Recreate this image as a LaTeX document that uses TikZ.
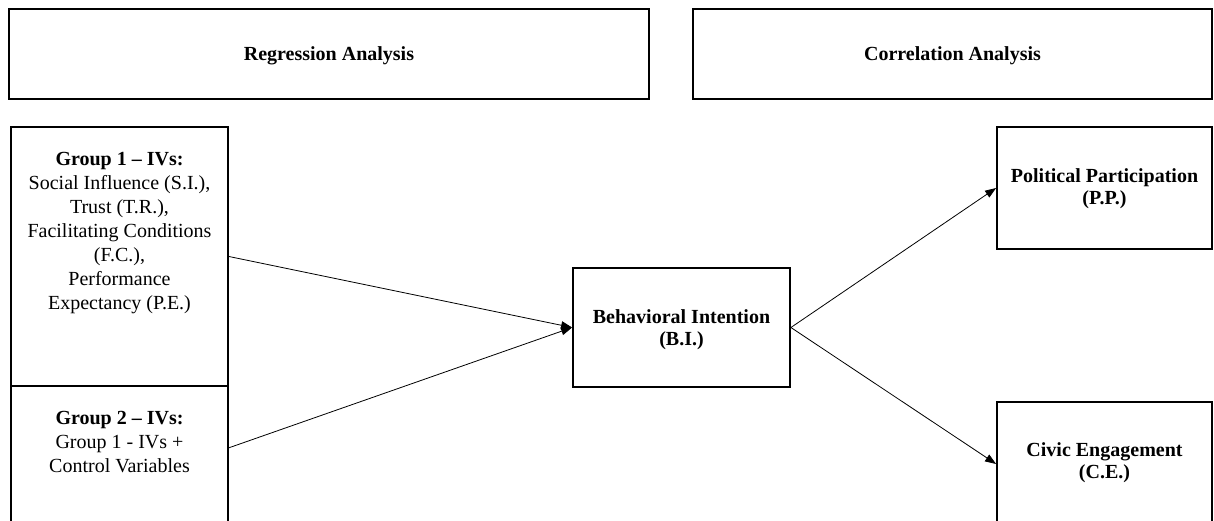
\documentclass[tikz,border=0pt]{standalone}
\usepackage{fontspec}
\setmainfont{Liberation Serif}
\usetikzlibrary{arrows.meta,calc}
\begin{document}
\begin{tikzpicture}[x=1pt,y=-1pt,
 box/.style={draw,line width=1.8pt,inner sep=0pt},
 txt/.style={align=center,font=\fontsize{20}{24}\selectfont,inner sep=0pt},
 btxt/.style={align=center,font=\fontsize{20}{22}\selectfont\bfseries,inner sep=0pt},
 arr/.style={line width=0.8pt,-{Triangle[length=11pt,width=8pt]}}]
\useasboundingbox (0,0) rectangle (1214,521);
% header boxes
\node[box,minimum width=640pt,minimum height=90pt] (reg) at (329,54) {};
\node[btxt] (regt) at (329,56) {Regression Analysis};
\node[box,minimum width=519pt,minimum height=90pt] (cor) at (952.5,54) {};
\node[btxt] (cort) at (952.5,56) {Correlation Analysis};
% group boxes
\node[box,minimum width=217pt,minimum height=259pt] (g1) at (119.5,256.5) {};
\node[txt] (g1t) at (119.5,233) {\textbf{Group 1 – IVs:}\\Social Influence (S.I.),\\Trust (T.R.),\\Facilitating Conditions\\(F.C.),\\Performance\\Expectancy (P.E.)};
\node[box,minimum width=217pt,minimum height=144pt] (g2) at (119.5,458) {};
\node[txt] (g2t) at (119.5,442) {\textbf{Group 2 – IVs:}\\Group 1 - IVs +\\Control Variables};
% BI
\node[box,minimum width=217pt,minimum height=119pt] (bi) at (681.5,327.5) {};
\node[btxt] (bit) at (681.5,330) {Behavioral Intention\\(B.I.)};
% outcomes
\node[box,minimum width=215pt,minimum height=122pt] (pp) at (1104.5,188) {};
\node[btxt] (ppt) at (1104.5,189) {Political Participation\\(P.P.)};
\node[box,minimum width=215pt,minimum height=124pt] (ce) at (1104.5,464) {};
\node[btxt] (cet) at (1104.5,463) {Civic Engagement\\(C.E.)};
% connectors
\draw[arr] (g1.east) -- (bi.west);
\draw[arr] ($(g2.north east)!0.43!(g2.south east)$) -- (bi.west);
\draw[arr] (bi.east) -- (pp.west);
\draw[arr] (bi.east) -- (ce.west);
\end{tikzpicture}
\end{document}
